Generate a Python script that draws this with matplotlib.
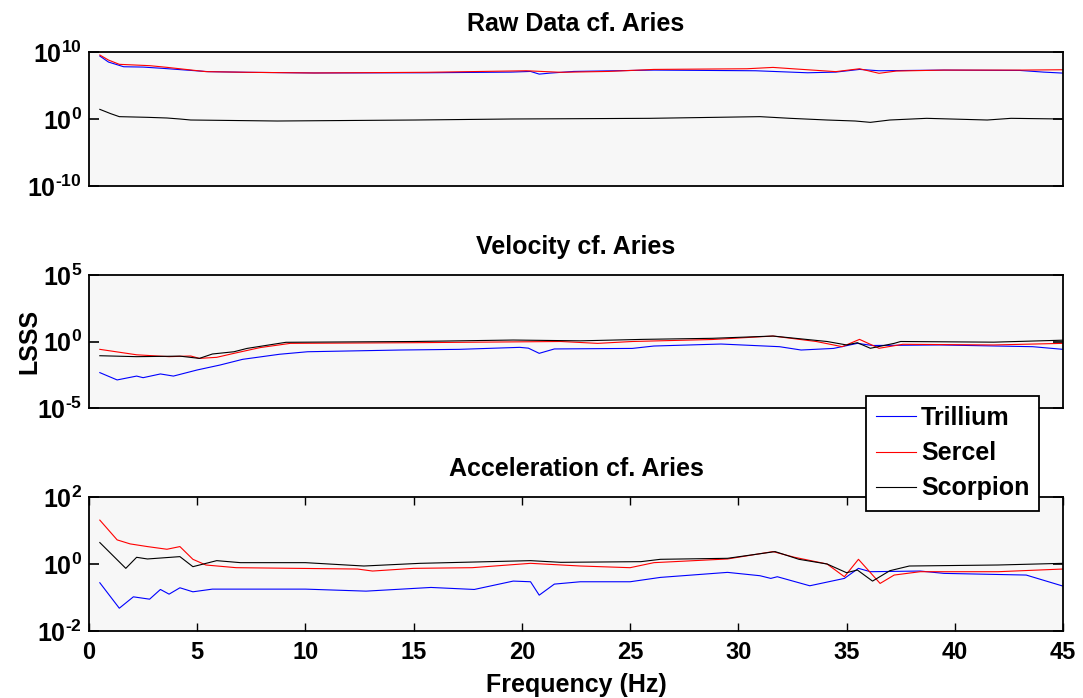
import matplotlib
matplotlib.use('Agg')
import matplotlib.pyplot as plt
import numpy as np

plt.rcParams['font.family'] = ['Liberation Sans', 'DejaVu Sans']
plt.rcParams['font.weight'] = 'bold'
plt.rcParams['mathtext.fontset'] = 'custom'
plt.rcParams['mathtext.bf'] = 'Liberation Sans:bold'
plt.rcParams['mathtext.rm'] = 'Liberation Sans:bold'

# ---- data (log10 of LSSS) ----
labels = ['Trillium', 'Sercel', 'Scorpion']
colours = ['#0000ff', '#ff0000', '#000000']
titles = ['Raw Data cf. Aries', 'Velocity cf. Aries', 'Acceleration cf. Aries']

raw_tri_f = [0.5, 0.9, 1.6, 2.5, 3.4, 4.5, 5.5, 7.3, 10.4, 15.6, 19.5, 20.4, 20.8, 21.3, 22.4,
             26.1, 30.8, 33.2, 34.5, 35.6, 36.5, 39.5, 43.0, 44.1, 45.0]
raw_tri = [9.4, 8.5, 7.8, 7.75, 7.56, 7.3, 7.07, 6.97, 6.87, 6.9, 7.0, 7.1, 6.7, 6.85, 7.1,
           7.3, 7.2, 6.9, 7.0, 7.4, 7.2, 7.3, 7.25, 7.0, 6.85]
raw_ser_f = [0.5, 0.9, 1.4, 2.8, 3.6, 5.4, 7.3, 10.4, 15.6, 20.2, 21.8, 24.0, 26.1, 30.4, 31.6,
             32.5, 34.5, 35.6, 36.5, 37.3, 39.5, 43.0, 45.0]
raw_ser = [9.55, 8.8, 8.16, 7.96, 7.71, 7.07, 6.97, 6.87, 6.97, 7.2, 6.97, 7.1, 7.4, 7.5, 7.7,
           7.5, 7.07, 7.5, 6.82, 7.16, 7.3, 7.3, 7.35]
raw_sco_f = [0.5, 1.0, 1.4, 2.7, 3.6, 4.2, 4.7, 8.7, 15.1, 19.5, 25.9, 31.0, 32.4, 34.1, 35.4,
             36.1, 37.0, 38.7, 41.5, 42.6, 45.0]
raw_sco = [1.44, 0.8, 0.35, 0.25, 0.15, 0.0, -0.15, -0.3, -0.15, 0.0, 0.1, 0.35, 0.1, -0.15, -0.3,
           -0.5, -0.15, 0.1, -0.15, 0.1, 0.0]

vel_tri_f = [0.5, 1.3, 2.2, 2.5, 3.3, 3.9, 5.0, 6.05, 7.1, 8.8, 10.1, 14.4, 17.1, 19.9, 20.3,
             20.8, 21.5, 25.1, 26.1, 29.2, 31.9, 32.9, 34.4, 35.5, 36.2, 39.3, 43.6, 45.0]
vel_tri = [-2.34, -2.89, -2.6, -2.72, -2.44, -2.6, -2.14, -1.77, -1.34, -0.96, -0.77, -0.64, -0.59,
           -0.44, -0.5, -0.89, -0.56, -0.52, -0.34, -0.19, -0.39, -0.64, -0.52, -0.14, -0.3, -0.26,
           -0.39, -0.59]
vel_ser_f = [0.5, 2.2, 3.7, 4.7, 5.1, 5.9, 6.7, 7.9, 9.3, 15.0, 21.8, 23.5, 25.1, 28.8, 31.6,
             33.6, 34.8, 35.6, 36.5, 37.6, 41.8, 45.0]
vel_ser = [-0.59, -1.0, -1.14, -1.09, -1.27, -1.19, -0.89, -0.46, -0.14, -0.09, 0.0, -0.14, 0.0,
           0.15, 0.41, 0.0, -0.39, 0.16, -0.51, -0.21, -0.26, -0.14]
vel_sco_f = [0.5, 2.2, 4.2, 5.1, 5.7, 6.7, 7.3, 9.1, 15.0, 19.6, 22.7, 25.6, 28.8, 31.6, 34.1,
             35.0, 35.5, 36.1, 37.2, 37.5, 41.8, 45.0]
vel_sco = [-1.07, -1.14, -1.1, -1.27, -0.94, -0.77, -0.52, -0.06, 0.0, 0.11, 0.05, 0.16, 0.24,
           0.41, 0.0, -0.26, -0.09, -0.51, -0.14, 0.0, -0.05, 0.1]

acc_tri_f = [0.5, 1.4, 2.05, 2.8, 3.3, 3.7, 4.2, 4.8, 5.7, 10.0, 12.8, 15.8, 17.8, 19.6, 20.4,
             20.8, 21.5, 22.7, 25.0, 26.4, 29.5, 31.0, 31.5, 31.8, 33.3, 34.9, 35.55, 36.1,
             38.4, 39.5, 43.3, 45.0]
acc_tri = [-0.56, -1.32, -0.98, -1.05, -0.76, -0.9, -0.71, -0.83, -0.75, -0.75, -0.81, -0.7,
           -0.76, -0.51, -0.53, -0.93, -0.6, -0.53, -0.53, -0.4, -0.25, -0.35, -0.43, -0.38,
           -0.65, -0.43, -0.13, -0.23, -0.21, -0.28, -0.33, -0.66]
acc_ser_f = [0.5, 1.3, 1.9, 2.7, 3.6, 4.2, 4.8, 5.4, 6.8, 12.4, 13.1, 15.0, 17.7, 20.4, 22.7,
             25.0, 26.1, 29.5, 31.6, 32.6, 34.1, 34.9, 35.55, 36.55, 37.2, 38.4, 42.0, 45.0]
acc_ser = [1.31, 0.72, 0.6, 0.52, 0.44, 0.52, 0.14, -0.03, -0.11, -0.15, -0.21, -0.13, -0.11,
           0.02, -0.06, -0.11, 0.04, 0.15, 0.37, 0.2, 0.0, -0.38, 0.14, -0.58, -0.33, -0.23,
           -0.23, -0.15]
acc_sco_f = [0.5, 1.7, 2.2, 2.7, 4.2, 4.8, 5.9, 7.0, 10.0, 12.7, 15.3, 20.4, 21.8, 25.5, 26.4,
             29.5, 31.7, 32.8, 34.1, 35.0, 35.5, 36.2, 37.0, 37.9, 42.0, 45.0]
acc_sco = [0.64, -0.13, 0.2, 0.15, 0.22, -0.08, 0.1, 0.04, 0.04, -0.06, 0.02, 0.1, 0.05, 0.07,
           0.14, 0.17, 0.37, 0.14, 0.0, -0.26, -0.18, -0.51, -0.2, -0.06, -0.03, 0.02]

panels = [
    [(raw_tri_f, raw_tri), (raw_ser_f, raw_ser), (raw_sco_f, raw_sco)],
    [(vel_tri_f, vel_tri), (vel_ser_f, vel_ser), (vel_sco_f, vel_sco)],
    [(acc_tri_f, acc_tri), (acc_ser_f, acc_ser), (acc_sco_f, acc_sco)],
]
ytick_exps = [[-10, 0, 10], [-5, 0, 5], [-2, 0, 2]]
xticks = [0, 5, 10, 15, 20, 25, 30, 35, 40, 45]


def exp_label(e):
    # MATLAB-style label: short hyphen for negative exponents
    if e < 0:
        return r'$\mathbf{10^{\text{-}%d}}$' % (-e)
    return r'$\mathbf{10^{%d}}$' % e


W, H = 1083, 698
fig = plt.figure(figsize=(W / 100, H / 100), dpi=100)
boxes = [(52, 186), (275, 408), (497, 631)]
left, right = 89, 1063

axes = []
for i, (top, bot) in enumerate(boxes):
    ax = fig.add_axes([left / W, 1 - bot / H, (right - left) / W, (bot - top) / H])
    ax.set_facecolor('#f7f7f7')
    handles = []
    for (f, v), c, lab in zip(panels[i], colours, labels):
        h, = ax.plot(f, 10 ** np.array(v), color=c, lw=0.8, label=lab)
        handles.append(h)
    ax.set_yscale('log')
    lo, hi = ytick_exps[i][0], ytick_exps[i][-1]
    ax.set_ylim(10.0 ** lo, 10.0 ** hi)
    ax.set_xlim(0, 45)
    ax.set_yticks([10.0 ** e for e in ytick_exps[i]])
    ax.set_yticklabels([exp_label(e) for e in ytick_exps[i]])
    ax.yaxis.set_minor_locator(matplotlib.ticker.NullLocator())
    ax.tick_params(axis='y', which='major', direction='in', length=7, width=1.2,
                   labelsize=18, pad=5, right=True)
    if i < 2:
        ax.set_xticks([])
    else:
        ax.set_xticks(xticks)
        ax.set_xticklabels([str(t) for t in xticks])
        ax.tick_params(axis='x', direction='in', length=6, width=1,
                       labelsize=17, pad=7, top=True)
        ax.set_xlabel('Frequency (Hz)', fontsize=18, fontweight='bold', labelpad=7)
    for s in ax.spines.values():
        s.set_linewidth(1.3)
    ax.set_title(titles[i], fontsize=18, fontweight='bold', pad=15)
    axes.append(ax)

axes[1].set_ylabel('LSSS', fontsize=18, fontweight='bold', labelpad=-3)

leg = fig.legend(handles, labels, loc='upper left',
                 bbox_to_anchor=(866 / W, 1 - 396 / H), borderaxespad=0,
                 fontsize=18, frameon=True, fancybox=False, framealpha=1,
                 handlelength=1.6, handletextpad=0.2, labelspacing=0.45,
                 borderpad=0.4)
leg.get_frame().set_edgecolor('black')
leg.get_frame().set_linewidth(1.3)

fig.savefig('out.png', dpi=100)
